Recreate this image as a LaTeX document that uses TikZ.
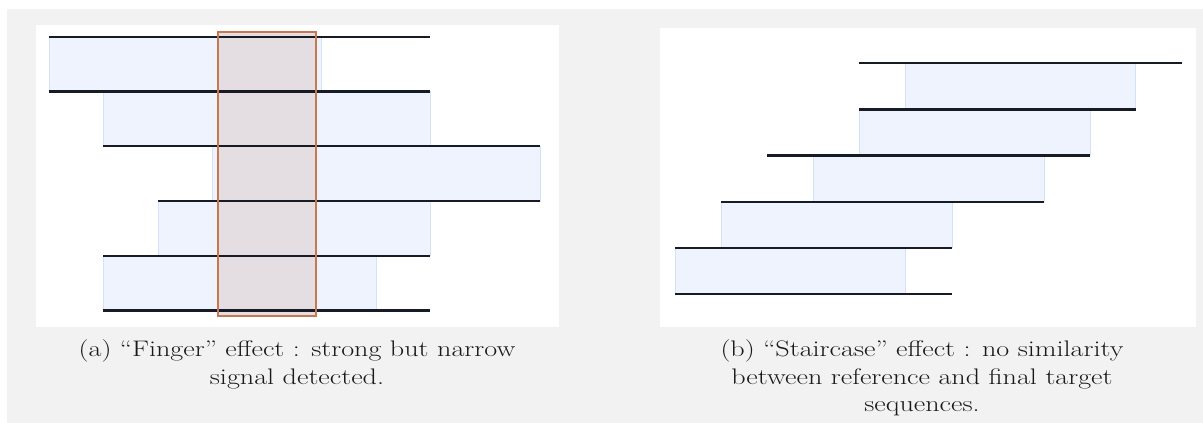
\documentclass[tikz,border=0pt]{standalone}
\usepackage{graphicx}
\definecolor{bggray}{HTML}{F2F2F2}
\definecolor{boxfill}{HTML}{EEF3FD}
\definecolor{boxdraw}{HTML}{D3E1FA}
\definecolor{seqcol}{HTML}{161B26}
\definecolor{fingerdraw}{HTML}{C8784E}
\definecolor{fingerfill}{HTML}{E4DEE2}
\newcommand{\capline}[1]{\scalebox{1.25}[1]{\fontsize{22.5}{27.3}\selectfont\begin{tabular}[t]{@{}c@{}}#1\end{tabular}}}
\begin{document}
\begin{tikzpicture}[x=1pt,y=-1pt,
  seqbox/.style={fill=boxfill,draw=boxdraw,line width=0.9pt},
  seqline/.style={draw=seqcol,line width=2.2pt},
  fingerbox/.style={fill=fingerfill},
  fingeredge/.style={draw=fingerdraw,line width=1.3pt},
  panel/.style={fill=white},
  captext/.style={inner sep=0pt,anchor=base,text=black!90}]
\useasboundingbox (0,0) rectangle (1203,423);
\fill[white] (0,0) rectangle (1203,423);
\fill[bggray] (7,9) rectangle (1203,423);
\path[panel] (36,25) rectangle (558.5,326.7);
\path[panel] (660,27.7) rectangle (1195.7,326.7);
% ---- left panel: finger effect
\path[seqbox] (49,36.7) rectangle (321,91.5);
\path[seqbox] (103,91.5) rectangle (430.5,146.3);
\path[seqbox] (212,146.3) rectangle (540,201);
\path[seqbox] (158,201) rectangle (430,255.7);
\path[seqbox] (103,255.7) rectangle (376,310.5);
\path[fingerbox] (218,32) rectangle (316,316);
\draw[seqline] (49,36.7) -- (430,36.7);
\draw[seqline] (49,91.5) -- (430,91.5);
\draw[seqline] (103,146.3) -- (540,146.3);
\draw[seqline] (158,201) -- (540,201);
\draw[seqline] (103,255.7) -- (430,255.7);
\draw[seqline] (103,310.5) -- (430,310.5);
\path[fingeredge] (218,32) rectangle (316,316);
% ---- right panel: staircase effect
\path[seqbox] (905,63.3) rectangle (1135.5,109.4);
\path[seqbox] (859,109.4) rectangle (1090,155.5);
\path[seqbox] (813,155.5) rectangle (1044,201.6);
\path[seqbox] (721,201.6) rectangle (952,247.7);
\path[seqbox] (675,247.7) rectangle (905.5,293.8);
\draw[seqline] (859,63.3) -- (1181.5,63.3);
\draw[seqline] (859,109.4) -- (1135.5,109.4);
\draw[seqline] (767,155.5) -- (1090,155.5);
\draw[seqline] (721,201.6) -- (1044,201.6);
\draw[seqline] (675,247.7) -- (952,247.7);
\draw[seqline] (675,293.8) -- (952,293.8);
% ---- captions
\node[captext] (capa) at (297,356.7) {\capline{(a) ``Finger'' effect : strong but narrow\\ signal detected.}};
\node[captext] (capb) at (922,356.7) {\capline{(b) ``Staircase'' effect : no similarity\\ between reference and final target\\ sequences.}};
\end{tikzpicture}
\end{document}
